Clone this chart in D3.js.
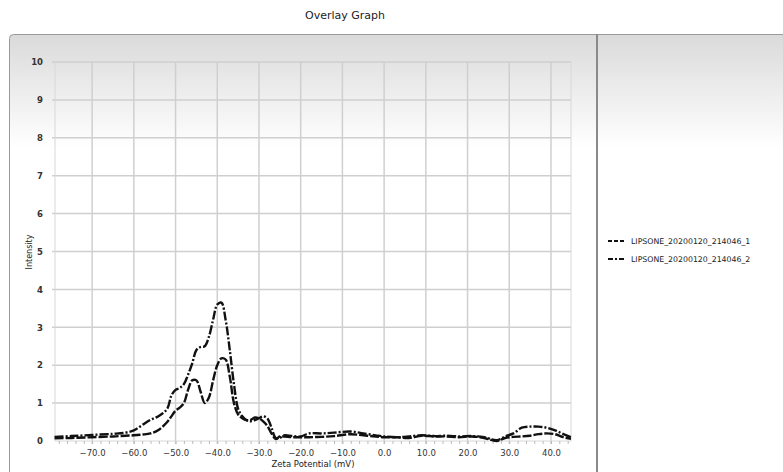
<!DOCTYPE html>
<html>
<head>
<meta charset="utf-8">
<script src="https://cdn.jsdelivr.net/npm/d3@7"></script>
<style>
  body { margin: 0; background: #fff; }
  svg { display: block; font-family: "DejaVu Sans", Verdana, sans-serif; }
</style>
</head>
<body>
<div id="wrap"></div>
<script>
// zeta potential sample points (mV)
const zeta = [-79, -75, -70, -65, -62, -60, -58, -56, -54, -52, -51, -50, -49, -48, -47, -46, -45, -44, -43, -42, -41, -40, -39, -38, -37, -36, -35, -34, -33, -32, -31, -30, -29, -28, -27, -26, -25, -24, -22, -20, -18, -15, -12, -8, -5, -2, 0, 3, 6, 9, 12, 15, 18, 21, 24, 27, 29, 31, 33, 35, 37, 39, 41, 43, 44.8];

// LIPSONE_20200120_214046_1 (dashed)
const run1 = [0.07, 0.08, 0.10, 0.12, 0.14, 0.15, 0.17, 0.20, 0.30, 0.50, 0.65, 0.80, 0.88, 1.00, 1.35, 1.60, 1.60, 1.30, 1.00, 1.15, 1.60, 2.00, 2.18, 2.15, 1.70, 1.00, 0.70, 0.60, 0.55, 0.56, 0.62, 0.60, 0.52, 0.40, 0.20, 0.05, 0.12, 0.12, 0.10, 0.10, 0.10, 0.11, 0.13, 0.18, 0.15, 0.12, 0.10, 0.10, 0.08, 0.14, 0.12, 0.12, 0.10, 0.12, 0.08, 0.00, 0.08, 0.11, 0.12, 0.14, 0.18, 0.20, 0.18, 0.10, 0.06];

// LIPSONE_20200120_214046_2 (dash-dot)
const run2 = [0.11, 0.13, 0.16, 0.19, 0.22, 0.28, 0.42, 0.56, 0.66, 0.85, 1.20, 1.35, 1.40, 1.50, 1.75, 2.05, 2.40, 2.48, 2.50, 2.75, 3.20, 3.60, 3.65, 3.20, 2.40, 1.50, 0.85, 0.65, 0.55, 0.52, 0.55, 0.60, 0.65, 0.60, 0.35, 0.08, 0.08, 0.15, 0.13, 0.12, 0.20, 0.20, 0.22, 0.25, 0.20, 0.15, 0.12, 0.10, 0.12, 0.15, 0.13, 0.14, 0.12, 0.13, 0.10, 0.02, 0.12, 0.20, 0.35, 0.38, 0.38, 0.35, 0.28, 0.18, 0.10];

const seriesNames = ["LIPSONE_20200120_214046_1", "LIPSONE_20200120_214046_2"];
const xTicks = [-70, -60, -50, -40, -30, -20, -10, 0, 10, 20, 30, 40];
const yTicks = [0, 1, 2, 3, 4, 5, 6, 7, 8, 9, 10];

const W = 783, H = 472;
const plot = {left: 55, right: 571, top: 62, bottom: 441};

const svg = d3.select("#wrap").append("svg")
    .attr("width", W)
    .attr("height", H);

// background gradient of the panel
const grad = svg.append("defs").append("linearGradient")
    .attr("id", "bg")
    .attr("x1", 0).attr("y1", 0).attr("x2", 0).attr("y2", 1);
grad.append("stop").attr("offset", "0%").attr("stop-color", "#dadada");
grad.append("stop").attr("offset", "24%").attr("stop-color", "#ffffff");
grad.append("stop").attr("offset", "100%").attr("stop-color", "#ffffff");

svg.append("rect")
    .attr("x", 9.5).attr("y", 34.5)
    .attr("width", W).attr("height", H)
    .attr("rx", 4)
    .attr("fill", "url(#bg)")
    .attr("stroke", "#9a9a9a")
    .attr("stroke-width", 1);

// divider between plot and legend panel
svg.append("line")
    .attr("x1", 597).attr("x2", 597)
    .attr("y1", 34).attr("y2", H)
    .attr("stroke", "#8a8a8a")
    .attr("stroke-width", 2);

// title
svg.append("text")
    .attr("x", 345).attr("y", 19)
    .attr("text-anchor", "middle")
    .attr("font-size", 11)
    .attr("fill", "#222")
    .text("Overlay Graph");

// scales
const x = d3.scaleLinear().domain([-78.9, 44.8]).range([plot.left, plot.right]);
const y = d3.scaleLinear().domain([0, 10]).range([plot.bottom, plot.top]);

// grid
const grid = svg.append("g");
grid.selectAll(".hg")
    .data(yTicks.filter(d => d > 0))
    .enter().append("line")
    .attr("x1", plot.left - 3).attr("x2", plot.right)
    .attr("y1", d => y(d)).attr("y2", d => y(d))
    .attr("stroke", "#cfcfcf")
    .attr("stroke-width", 1.5);
grid.selectAll(".vg")
    .data(xTicks)
    .enter().append("line")
    .attr("x1", d => x(d)).attr("x2", d => x(d))
    .attr("y1", plot.top).attr("y2", plot.bottom + 3)
    .attr("stroke", "#cfcfcf")
    .attr("stroke-width", 1.5);

// plot frame (left and right edges, bottom)
grid.append("line")
    .attr("x1", plot.left).attr("x2", plot.left)
    .attr("y1", plot.top).attr("y2", plot.bottom)
    .attr("stroke", "#d8d8d8");
grid.append("line")
    .attr("x1", plot.right).attr("x2", plot.right)
    .attr("y1", plot.top).attr("y2", plot.bottom)
    .attr("stroke", "#d8d8d8");
grid.append("line")
    .attr("x1", plot.left).attr("x2", plot.right)
    .attr("y1", plot.bottom).attr("y2", plot.bottom)
    .attr("stroke", "#d8d8d8");

// x axis minor ticks
const xAxis = svg.append("g")
    .attr("transform", "translate(0," + plot.bottom + ")")
    .call(d3.axisBottom(x)
        .tickValues(d3.range(-78, 45, 2))
        .tickSize(3)
        .tickFormat(""));
xAxis.select(".domain").remove();
xAxis.selectAll("line").attr("stroke", "#bbb");

// x axis labels
svg.append("g")
    .attr("transform", "translate(0," + plot.bottom + ")")
    .call(d3.axisBottom(x)
        .tickValues(xTicks)
        .tickSize(0)
        .tickPadding(9)
        .tickFormat(d3.format(".1f")))
    .call(g => g.select(".domain").remove())
    .selectAll("text")
    .attr("font-size", 8.5)
    .attr("font-family", "DejaVu Sans, Verdana, sans-serif")
    .attr("fill", "#333");

// y axis
svg.append("g")
    .attr("transform", "translate(" + plot.left + ",0)")
    .call(d3.axisLeft(y)
        .tickValues(yTicks)
        .tickSize(0)
        .tickPadding(12)
        .tickFormat(d3.format("d")))
    .call(g => g.select(".domain").remove())
    .selectAll("text")
    .attr("font-size", 8.5)
    .attr("font-weight", "bold")
    .attr("font-family", "DejaVu Sans, Verdana, sans-serif")
    .attr("fill", "#333");

// axis titles
svg.append("text")
    .attr("transform", "translate(32,252) rotate(-90)")
    .attr("text-anchor", "middle")
    .attr("font-size", 8)
    .attr("fill", "#222")
    .text("Intensity");
svg.append("text")
    .attr("x", 313).attr("y", 467)
    .attr("text-anchor", "middle")
    .attr("font-size", 8.5)
    .attr("fill", "#222")
    .text("Zeta Potential (mV)");

// curves
const dashes = ["9,2", "9,2,2,2"];
const line = d3.line()
    .x(d => x(d[0]))
    .y(d => y(d[1]))
    .curve(d3.curveCatmullRom.alpha(0.5));

[run1, run2].forEach(function(vals, i) {
    svg.append("path")
        .datum(zeta.map((z, k) => [z, vals[k]]))
        .attr("d", line)
        .attr("fill", "none")
        .attr("stroke", "#111")
        .attr("stroke-width", 2.4)
        .attr("stroke-dasharray", dashes[i])
        .attr("stroke-linejoin", "round");
});

// legend
const legend = svg.append("g");
seriesNames.forEach(function(name, i) {
    const ly = 241 + i * 18;
    legend.append("line")
        .attr("x1", 608).attr("x2", 626)
        .attr("y1", ly).attr("y2", ly)
        .attr("stroke", "#111")
        .attr("stroke-width", 2)
        .attr("stroke-dasharray", i === 0 ? "4,2" : "5,2,2,2");
    legend.append("text")
        .attr("x", 631).attr("y", ly + 3)
        .attr("font-size", 7.8)
        .attr("fill", "#222")
        .text(name);
});
</script>
</body>
</html>
